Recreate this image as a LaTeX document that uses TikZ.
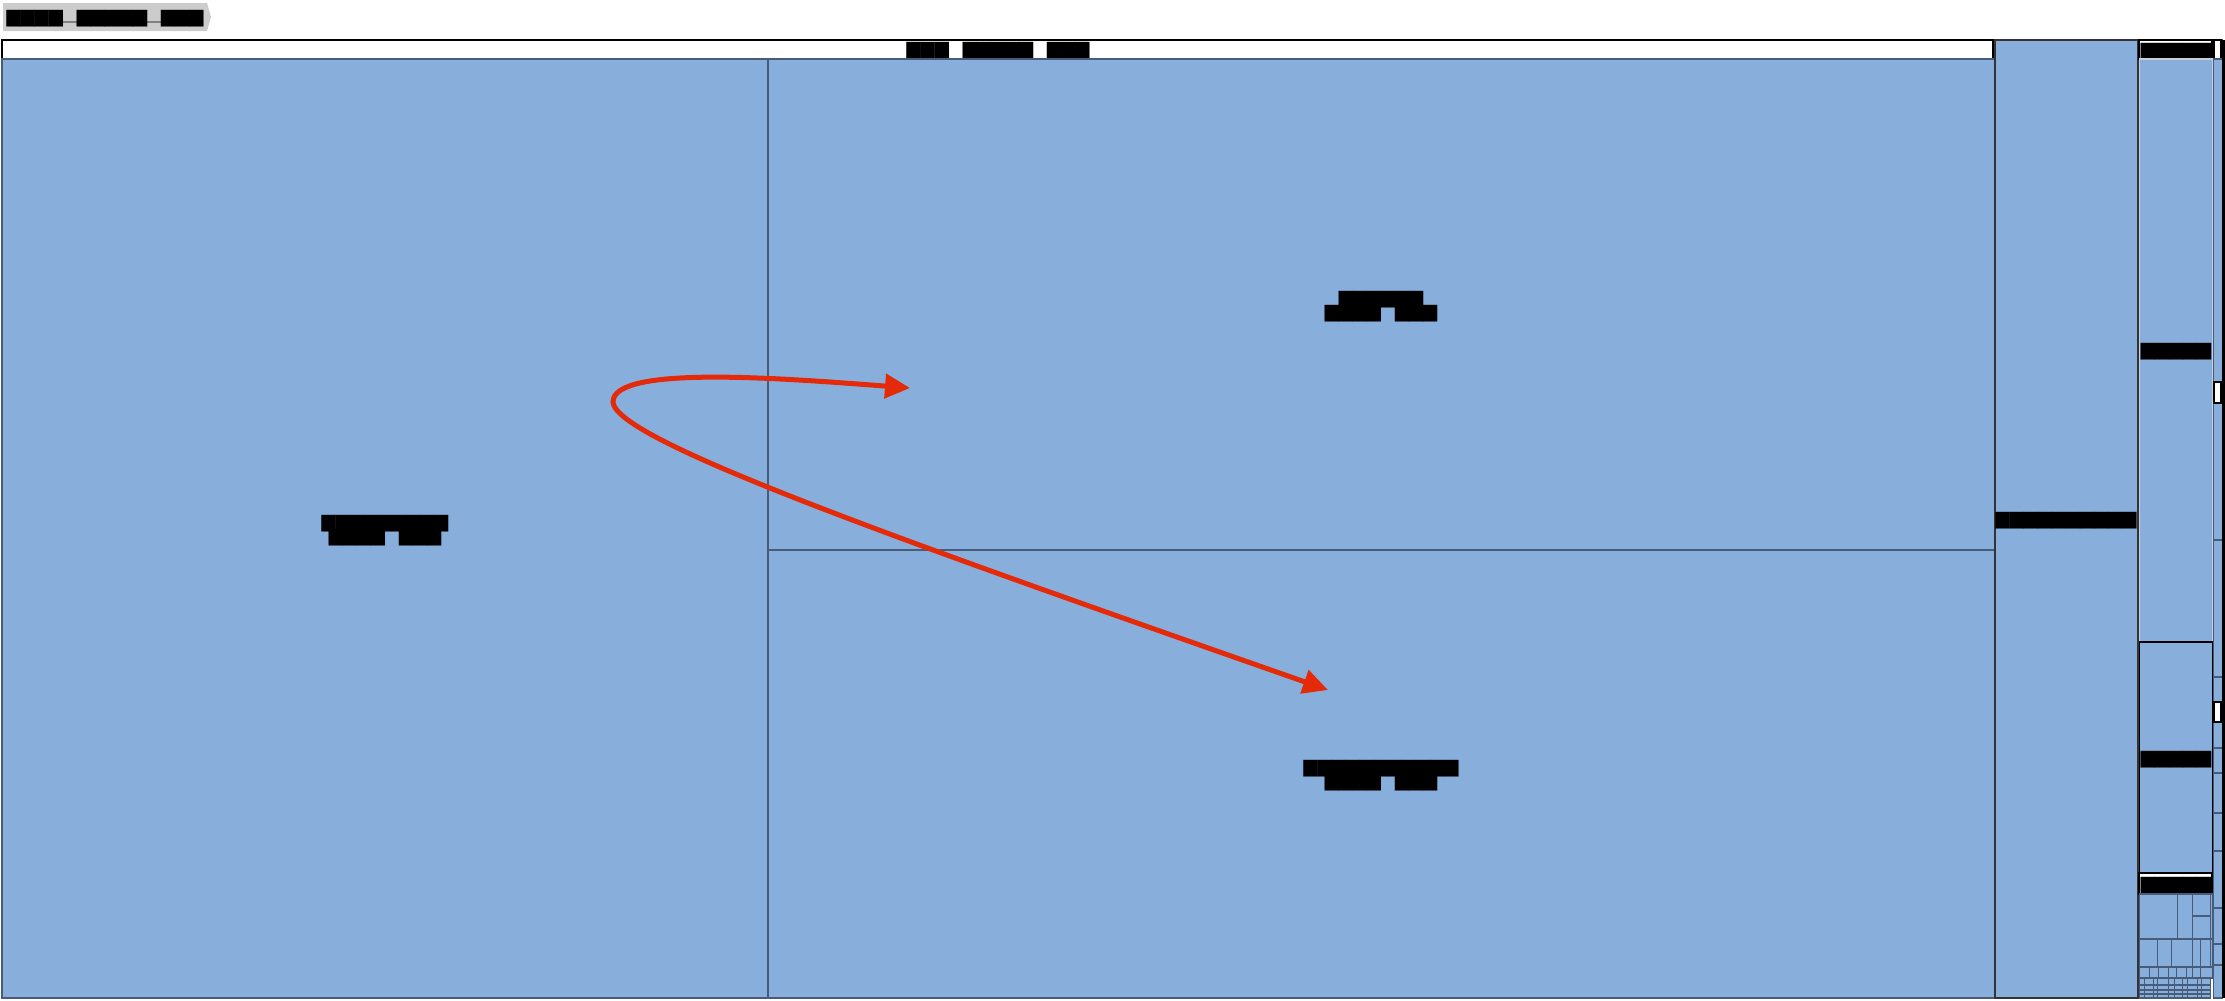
\documentclass[tikz,border=0pt]{standalone}
\usepackage{fontspec}
\usepackage{tikz}
\usetikzlibrary{arrows.meta}

\newfontfamily\tofufont[FakeStretch=1.66]{DejaVu Sans Mono}
\newcommand\tofusize{\fontsize{4}{4}\selectfont\lineskiplimit=-10pt\relax}
\definecolor{cellblue}{RGB}{136,175,220}
\definecolor{celledge}{RGB}{72,92,122}
\definecolor{crumbgray}{RGB}{204,204,204}
\definecolor{swapred}{RGB}{228,42,8}

\tikzset{
	cell/.style={fill=cellblue, draw=celledge, line width=0.3pt},
	head/.style={fill=white, draw=black, line width=0.4pt},
	tofu/.style={font=\tofufont\tofusize, inner sep=0pt, align=center, yshift=-0.02cm},
	swap/.style={draw=swapred, line width=0.5mm, {Triangle[length=2.5mm,width=2.4mm]}-{Triangle[length=2.5mm,width=2.4mm]}}
}

\begin{document}
\begin{tikzpicture}[x=0.01cm, y=-0.01cm]
	\useasboundingbox (0,0) rectangle (2225,1000);

	% crumbs
	\fill [crumbgray] (3,3) -- (207,3) -- (211,17) -- (207,31) -- (3,31) -- cycle;
	\draw [gray, thin] (63,22) -- (77,22);
	\draw [gray, thin] (147,22) -- (161,22);
	\node [tofu] (crumb) at (105,17) {████ █████ ███};

	% header
	\draw [head] (2,40) rectangle (1993,59);
	\node [tofu] (title) at (998,49) {███ █████ ███};

	% big cells
	\draw [cell] (2,59) rectangle (768,998);
	\draw [cell] (768,59) rectangle (1995,550);
	\draw [cell] (768,550) rectangle (1995,998);
	% label
	\node [tofu] (left) at (385,529) {█████████\\████ ███};
	\node [tofu] (upper) at (1381,305) {██████\\████ ███};
	\node [tofu] (lower) at (1381,774) {███████████\\████ ███};

	% column
	\draw [cell, draw=black!80, line width=0.6pt] (1995,40) rectangle (2138,998);
	\node [tofu] (col) at (2066,519) {██████████};

	% narrow column
	\draw [head] (2139,40) rectangle (2212,59);
	\node [tofu] (nhead) at (2176,50) {█████};
	\draw [cell, draw=white!70!celledge] (2139,59) rectangle (2212,642);
	\node [tofu] (na) at (2176,350) {█████};
	\draw [cell, draw=black] (2139,642) rectangle (2212,873);
	\node [tofu] (nb) at (2176,758) {█████};
	\draw [head] (2139,873) rectangle (2212,894);
	\node [tofu] (nc) at (2176,884) {█████};

	% small ones
	\draw [cell] (2139,894) rectangle (2177,939);
	\draw [cell] (2177,894) rectangle (2192,939);
	\draw [cell] (2192,894) rectangle (2210,916);
	\draw [cell] (2192,916) rectangle (2210,939);
	\draw [cell] (2210,894) rectangle (2212,939);
	\draw [cell] (2139,939) rectangle (2157,967);
	\draw [cell] (2157,939) rectangle (2171,967);
	\draw [cell] (2171,939) rectangle (2192,967);
	\draw [cell] (2192,939) rectangle (2200,967);
	\draw [cell] (2200,939) rectangle (2210,967);
	\draw [cell] (2210,939) rectangle (2212,967);
	\foreach \x/\w in {2139/10,2149/9,2158/10,2168/8,2176/10,2186/6,2192/8,2200/12}
		\draw [cell] (\x,967) rectangle ++(\w,11);
	\foreach \y/\h in {978/7,985/5,990/4,994/4}
		\foreach \x/\w in {2139/5,2144/9,2153/4,2157/11,2168/6,2174/8,2182/5,2187/10,2197/4,2201/9}
			\draw [cell] (\x,\y) rectangle ++(\w,\h);

	% strip
	\draw [cell] (2213,40) rectangle (2222,998);
	\draw [head] (2214,40) rectangle (2221,59);
	\foreach \a/\b in {59/382,403/540,540/677,677/702,722/748,748/773,773/813,813/851,851/908,908/944,944/965,965/998}
		\draw [cell] (2213,\a) rectangle (2222,\b);
	\draw [head] (2214,382) rectangle (2221,403);
	\draw [head] (2214,702) rectangle (2221,722);
	\fill [black] (2222,40) rectangle (2225,998);

	% swap arrow
	\coordinate (swapA) at (910,388);
	\coordinate (swapL) at (613,402);
	\coordinate (swapB) at (1328,690);
	\draw [swap] (swapA) .. controls (780,378) and (613,365) .. (swapL)
		.. controls (615,440) and (900,540) .. (swapB);
\end{tikzpicture}
\end{document}
